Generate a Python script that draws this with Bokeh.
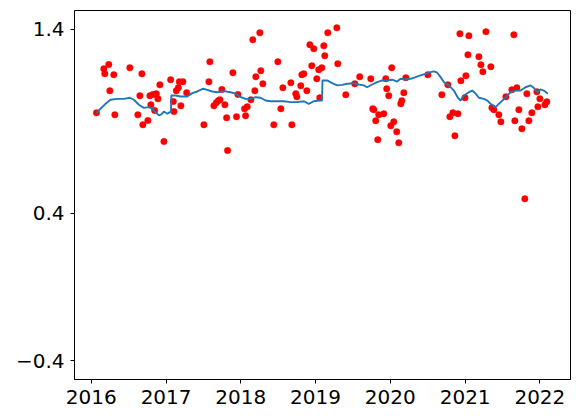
import math
from datetime import datetime
from bokeh.plotting import figure
from bokeh.models import FixedTicker, DatetimeTickFormatter, Range1d
from bokeh.embed import file_html
from bokeh.resources import INLINE

# Scatter observations (decimal year, value)
obs_year = [
    2016.071, 2016.169, 2016.182, 2016.235, 2016.249, 2016.302, 2016.316, 2016.516,
    2016.623, 2016.650, 2016.677, 2016.690, 2016.757, 2016.784, 2016.797, 2016.824,
    2016.847, 2016.869, 2016.891, 2016.917, 2016.971, 2017.061, 2017.097, 2017.105,
    2017.137, 2017.164, 2017.177, 2017.198, 2017.225, 2017.275, 2017.506, 2017.573,
    2017.586, 2017.640, 2017.672, 2017.699, 2017.720, 2017.747, 2017.787, 2017.810,
    2017.823, 2017.894, 2017.943, 2017.961, 2018.050, 2018.064, 2018.086,
    2018.135, 2018.161, 2018.188, 2018.201, 2018.255, 2018.268, 2018.295, 2018.442,
    2018.496, 2018.536, 2018.563, 2018.670, 2018.683, 2018.736, 2018.750, 2018.803,
    2018.817, 2018.843, 2018.884, 2018.924, 2018.950, 2018.977, 2019.017, 2019.044,
    2019.057, 2019.084, 2019.111, 2019.124, 2019.164, 2019.285, 2019.298, 2019.405,
    2019.525, 2019.592, 2019.740, 2019.766, 2019.780, 2019.806, 2019.833, 2019.846,
    2019.913, 2019.940, 2019.953, 2019.980, 2020.007, 2020.020, 2020.047, 2020.087,
    2020.114, 2020.141, 2020.154, 2020.181, 2020.208,
    2020.502, 2020.689, 2020.769, 2020.796, 2020.836, 2020.863, 2020.903, 2020.930,
    2020.943, 2020.997, 2021.010, 2021.037, 2021.050, 2021.184, 2021.211, 2021.237,
    2021.278, 2021.344, 2021.358, 2021.384, 2021.451, 2021.478, 2021.545, 2021.625,
    2021.652, 2021.665, 2021.692, 2021.719, 2021.759, 2021.799, 2021.826, 2021.853,
    2021.893, 2021.960, 2021.973, 2022.000, 2022.067, 2022.093,
]
obs_value = [
    0.947, 1.186, 1.159, 1.210, 1.067, 1.154, 0.936, 1.192,
    0.936, 1.040, 1.159, 0.882, 0.905, 1.040, 0.991, 1.047,
    0.960, 1.051, 1.023, 1.099, 0.791, 1.127, 1.009, 0.954,
    1.067, 1.083, 1.116, 0.985, 1.116, 1.056, 0.882, 1.116,
    1.224, 0.985, 1.002, 1.013, 1.018, 1.074, 0.991, 0.920,
    0.742, 1.165, 0.926, 1.047, 0.969, 0.931, 0.980,
    1.018, 1.344, 1.067, 1.143, 1.382, 1.176, 1.105, 0.882,
    1.224, 0.969, 1.083, 1.110, 0.882, 1.051, 1.034, 1.094,
    1.154, 1.159, 1.067, 1.317, 1.203, 1.295, 1.132, 1.181,
    1.029, 1.192, 1.311, 1.257, 1.382, 1.409, 1.214, 1.045,
    1.105, 1.143, 1.132, 0.969, 0.964, 0.904, 0.801, 0.936,
    0.942, 1.132, 1.078, 1.040, 0.877, 1.192, 0.898, 0.844,
    0.784, 0.996, 1.013, 1.056, 1.138,
    1.154, 1.045, 1.099, 0.926, 0.947, 0.822, 0.942, 1.377,
    1.121, 1.029, 1.148, 1.262, 1.366, 1.252, 1.208, 1.170,
    1.388, 1.197, 0.974, 0.964, 0.936, 0.898, 1.034, 1.072,
    1.371, 0.904, 1.083, 0.964, 0.860, 0.480, 1.051, 0.904,
    0.947, 1.061, 0.980, 1.023, 0.991, 1.007,
]

# Smoothed trend line (decimal year, value)
trend_year = [
    2016.071, 2016.124, 2016.191, 2016.258, 2016.348, 2016.436, 2016.516, 2016.570,
    2016.637, 2016.703, 2016.770, 2016.816, 2016.860, 2016.904, 2016.936, 2016.971,
    2017.016, 2017.051, 2017.065, 2017.070, 2017.127, 2017.194, 2017.284, 2017.351,
    2017.418, 2017.498, 2017.551, 2017.618, 2017.685, 2017.773, 2017.863, 2017.930,
    2017.997, 2018.064, 2018.131, 2018.198, 2018.264, 2018.331, 2018.398, 2018.488,
    2018.576, 2018.665, 2018.755, 2018.843, 2018.910, 2018.977, 2019.044, 2019.087,
    2019.093, 2019.156, 2019.223, 2019.290, 2019.357, 2019.424, 2019.512, 2019.579,
    2019.646, 2019.691, 2019.758, 2019.825, 2019.892, 2019.959, 2020.026, 2020.093,
    2020.137, 2020.204, 2020.271, 2020.338, 2020.404, 2020.471, 2020.538, 2020.582,
    2020.628, 2020.672, 2020.716, 2020.783, 2020.850, 2020.903, 2020.939, 2020.983,
    2021.050, 2021.096, 2021.140, 2021.184, 2021.251, 2021.296, 2021.340, 2021.407,
    2021.474, 2021.541, 2021.608, 2021.675, 2021.742, 2021.808, 2021.875, 2021.919,
    2021.965, 2022.009, 2022.053, 2022.107,
]
trend_value = [
    0.947, 0.969, 0.996, 1.018, 1.023, 1.023, 1.029, 1.018,
    0.991, 0.974, 0.978, 0.969, 0.951, 0.933, 0.938, 0.954,
    0.942, 0.951, 0.952, 1.041, 1.041, 1.036, 1.036, 1.054,
    1.063, 1.078, 1.072, 1.063, 1.059, 1.065, 1.059, 1.051,
    1.033, 1.023, 1.023, 1.032, 1.029, 1.014, 1.010, 1.010,
    1.010, 1.005, 1.005, 1.010, 0.996, 1.010, 1.014, 1.014,
    1.123, 1.123, 1.108, 1.096, 1.099, 1.105, 1.108, 1.101,
    1.096, 1.086, 1.101, 1.114, 1.123, 1.123, 1.127, 1.117,
    1.132, 1.128, 1.132, 1.141, 1.150, 1.159, 1.168, 1.172,
    1.165, 1.141, 1.114, 1.096, 1.068, 1.029, 1.014, 1.041,
    1.059, 1.068, 1.051, 1.029, 1.023, 1.014, 0.996, 0.978,
    1.005, 1.029, 1.059, 1.068, 1.068, 1.086, 1.096, 1.083,
    1.059, 1.074, 1.068, 1.051,
]

year_ticks = [2016, 2017, 2018, 2019, 2020, 2021, 2022]
y_ticks = [-0.4, 0.4, 1.4]
y_tick_labels = ["\u22120.4", "0.4", "1.4"]


def to_dt(y):
    yr = int(math.floor(y))
    a = datetime(yr, 1, 1)
    b = datetime(yr + 1, 1, 1)
    return a + (b - a) * (y - yr)


def to_ms(d):
    return (d - datetime(1970, 1, 1)).total_seconds() * 1000.0


obs_x = [to_dt(v) for v in obs_year]
trend_x = [to_dt(v) for v in trend_year]

p = figure(
    width=579, height=419, x_axis_type="datetime",
    output_backend="svg", toolbar_location=None,
    x_range=Range1d(to_dt(2015.777), to_dt(2022.410)),
    y_range=Range1d(-0.502, 1.503),
    min_border_left=74, min_border_right=9, min_border_top=10, min_border_bottom=40,
)
p.background_fill_color = "white"
p.border_fill_color = "white"
p.grid.visible = False
p.outline_line_color = "black"
p.outline_line_alpha = 1.0
p.outline_line_width = 1

p.scatter(obs_x, obs_value, size=6.5, fill_color="red", line_color="red", line_width=0.4)
p.line(trend_x, trend_value, line_color="#1f77b4", line_width=1.9)

p.xaxis.ticker = FixedTicker(ticks=[to_ms(datetime(y, 1, 1)) for y in year_ticks])
p.xaxis.formatter = DatetimeTickFormatter(
    years="%Y", months="%Y", days="%Y", hours="%Y", minutes="%Y",
    seconds="%Y", milliseconds="%Y", microseconds="%Y", hourmin="%Y",
)
p.yaxis.ticker = FixedTicker(ticks=y_ticks)
p.yaxis.major_label_overrides = {t: l for t, l in zip(y_ticks, y_tick_labels)}

for ax in (p.xaxis[0], p.yaxis[0]):
    ax.major_label_text_font = "DejaVu Sans"
    ax.major_label_text_font_size = "20px"
    ax.major_label_text_color = "black"
    ax.major_tick_in = 0
    ax.major_tick_out = 4
    ax.minor_tick_in = 0
    ax.minor_tick_out = 0
    ax.axis_line_color = "black"
    ax.major_tick_line_color = "black"
    ax.major_label_standoff = 6

open("out.html", "w").write(file_html(p, INLINE))
